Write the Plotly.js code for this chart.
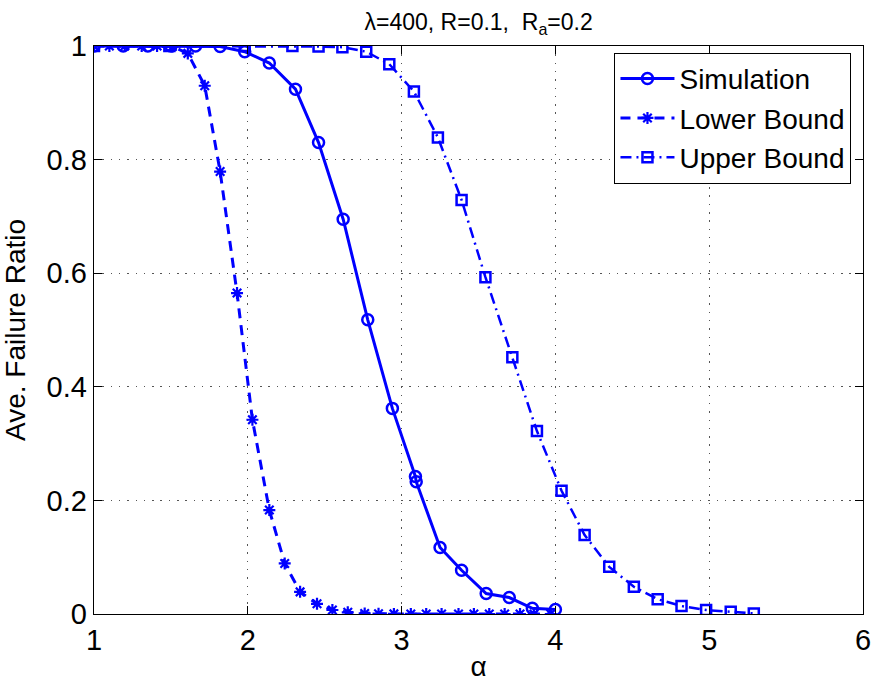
<!DOCTYPE html>
<html>
<head>
<meta charset="utf-8">
<script src="https://cdn.plot.ly/plotly-3.0.1.min.js"></script>
<style>html,body{margin:0;padding:0;background:#fff;}#chart{width:875px;height:682px;}</style>
</head>
<body>
<div id="chart"></div>
<script>
// Simulation (circles)
var simAlpha = [1.0, 1.19, 1.35, 1.5, 1.66, 1.82, 1.98, 2.14, 2.31, 2.46, 2.62, 2.78, 2.94, 3.09, 3.095, 3.25, 3.39, 3.55, 3.7, 3.85, 4.0];
var simValues = [1.0, 1.0, 1.0, 1.0, 1.0, 0.999, 0.99, 0.97, 0.924, 0.83, 0.695, 0.518, 0.362, 0.242, 0.233, 0.117, 0.077, 0.036, 0.029, 0.010, 0.008];

// Lower bound (asterisks)
var lowAlpha = [1.0, 1.1, 1.2, 1.31, 1.41, 1.51, 1.61, 1.72, 1.82, 1.93, 2.03, 2.14, 2.24, 2.34, 2.45, 2.55, 2.65, 2.76, 2.85, 2.95, 3.06, 3.16, 3.26, 3.37, 3.47, 3.57, 3.67, 3.77, 3.86, 3.97];
var lowValues = [1.0, 1.0, 1.0, 1.0, 1.0, 0.999, 0.987, 0.93, 0.779, 0.565, 0.342, 0.183, 0.089, 0.039, 0.018, 0.007, 0.003, 0.001, 0.0005, 0.0002, 0.0001, 0, 0, 0, 0, 0, 0, 0, 0, 0];

// Upper bound (squares)
var upAlpha = [1.0, 1.49, 1.98, 2.29, 2.46, 2.615, 2.77, 2.92, 3.08, 3.236, 3.39, 3.545, 3.72, 3.88, 4.04, 4.19, 4.35, 4.51, 4.665, 4.82, 4.98, 5.14, 5.29];
var upValues = [1.0, 1.0, 1.0, 1.0, 0.999, 0.998, 0.99, 0.968, 0.92, 0.839, 0.729, 0.593, 0.452, 0.322, 0.217, 0.139, 0.083, 0.048, 0.026, 0.014, 0.007, 0.004, 0.001];

var seriesNames = ['Simulation', 'Lower Bound', 'Upper Bound'];
var xTicks = [1, 2, 3, 4, 5, 6];
var yTicks = [0, 0.2, 0.4, 0.6, 0.8, 1];
var yTickText = ['0', '0.2', '0.4', '0.6', '0.8', '1'];

var BLUE = '#0000ff';
var FONT = 'Liberation Sans, Arial, Helvetica, sans-serif';

var traces = [
  {
    x: simAlpha, y: simValues, name: seriesNames[0], type: 'scatter', mode: 'lines+markers',
    line: {color: BLUE, width: 3, dash: 'solid'},
    marker: {symbol: 'circle-open', size: 11, color: BLUE, line: {width: 2.5, color: BLUE}}
  },
  {
    x: lowAlpha, y: lowValues, name: seriesNames[1], type: 'scatter', mode: 'lines+markers',
    line: {color: BLUE, width: 3, dash: '10px,7px'},
    marker: {symbol: 'asterisk-open', size: 10, color: BLUE, line: {width: 2.2, color: BLUE}}
  },
  {
    x: upAlpha, y: upValues, name: seriesNames[2], type: 'scatter', mode: 'lines+markers',
    line: {color: BLUE, width: 2.5, dash: '11px,5px,2px,5px'},
    marker: {symbol: 'square-open', size: 10, color: BLUE, line: {width: 2.5, color: BLUE}}
  }
];

var axisCommon = {
  showline: true, linecolor: '#000', linewidth: 1.3, mirror: 'ticks',
  ticks: 'inside', ticklen: 8, tickwidth: 1, tickcolor: '#000',
  showgrid: true, gridcolor: '#555', griddash: '1.5px,6.8px', gridwidth: 1,
  zeroline: false,
  tickfont: {family: FONT, size: 29, color: '#000'}
};

var layout = {
  width: 875, height: 682,
  margin: {l: 94, r: 12, t: 46, b: 68},
  paper_bgcolor: '#fff', plot_bgcolor: '#fff',
  font: {family: FONT, color: '#000'},
  title: {
    text: 'λ=400, R=0.1, \u00a0R<sub>a</sub>=0.2',
    font: {family: FONT, size: 23, color: '#000'},
    x: 0.547, xanchor: 'center', y: 0.968, yanchor: 'middle'
  },
  xaxis: Object.assign({}, axisCommon, {
    range: [1, 6], tickmode: 'array', tickvals: xTicks,
    title: {text: 'α', font: {family: FONT, size: 28, color: '#000'}, standoff: 4}
  }),
  yaxis: Object.assign({}, axisCommon, {
    range: [0, 1], tickmode: 'array', tickvals: yTicks, ticktext: yTickText,
    title: {text: 'Ave. Failure Ratio', font: {family: FONT, size: 28, color: '#000'}, standoff: 12}
  }),
  showlegend: true,
  legend: {
    x: 0.985, xanchor: 'right', y: 0.988, yanchor: 'top',
    bgcolor: '#fff', bordercolor: '#000', borderwidth: 1,
    font: {family: FONT, size: 28, color: '#000'},
    itemwidth: 54, tracegroupgap: 0
  }
};

Plotly.newPlot('chart', traces, layout, {displayModeBar: false, staticPlot: true});
</script>
</body>
</html>
